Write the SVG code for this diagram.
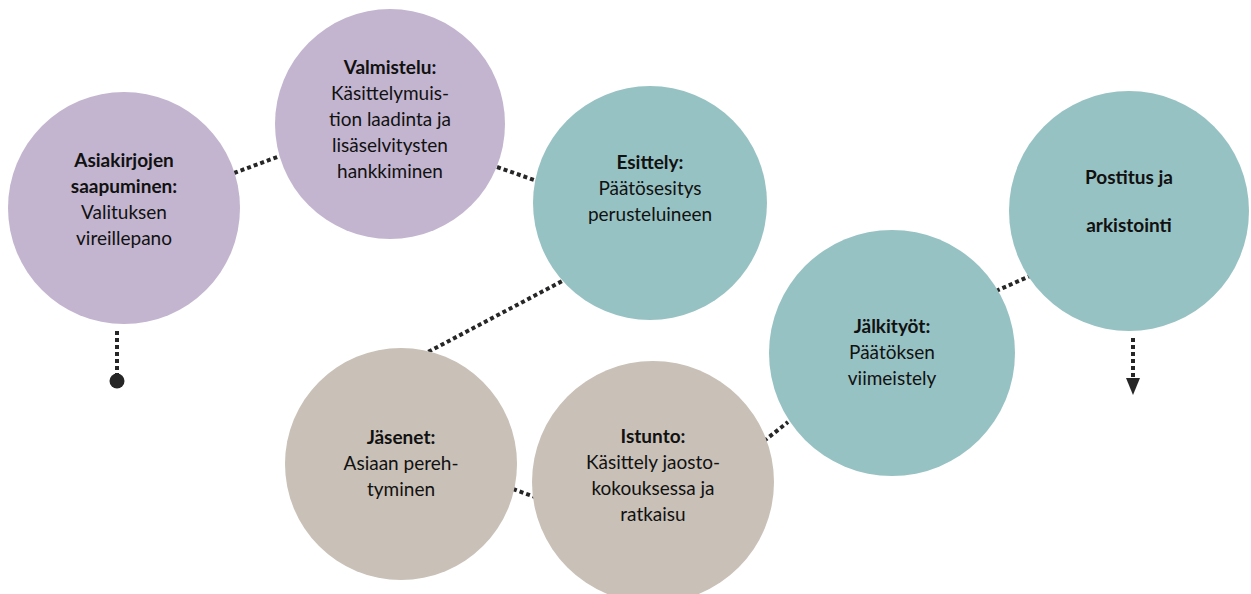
<svg xmlns="http://www.w3.org/2000/svg" width="1251" height="594" viewBox="0 0 1251 594">
  <defs>
    <style>
      .purple { fill: #c3b5cf; }
      .teal { fill: #97c2c3; }
      .taupe { fill: #c9c0b7; }
      text { font-family: Lato, "Noto Sans", "Liberation Sans", sans-serif; font-size: 19px; fill: #111111; text-anchor: middle; }
      .b { font-weight: bold; }
      .conn { stroke: #262626; stroke-width: 4; stroke-dasharray: 4 3; fill: none; }
    </style>
    <marker id="arrow" viewBox="0 0 10 10" refX="0" refY="5" markerWidth="4" markerHeight="4" orient="auto" markerUnits="strokeWidth">
      <path d="M0,0 L10,5 L0,10 z" fill="#262626"/>
    </marker>
  </defs>
  <rect width="1251" height="594" fill="#ffffff"/>

  <g id="connectors">
    <line class="conn" x1="234" y1="173" x2="280" y2="156"/>
    <line class="conn" x1="497" y1="167" x2="537" y2="181"/>
    <line class="conn" x1="568" y1="278" x2="428" y2="352"/>
    <line class="conn" x1="513" y1="489" x2="535" y2="497"/>
    <line class="conn" x1="764" y1="441" x2="788" y2="422"/>
    <line class="conn" x1="996" y1="291" x2="1030" y2="276"/>
    <line class="conn" x1="117" y1="331" x2="117" y2="374"/>
    <circle cx="117" cy="381" r="7.5" fill="#262626"/>
    <line class="conn" x1="1133" y1="338" x2="1133" y2="379"/>
    <path d="M1126,378 L1140,378 L1133,395 z" fill="#262626"/>
  </g>

  <g id="node-asiakirjojen">
    <circle class="purple" cx="124" cy="208" r="116"/>
    <text class="b" x="124" y="167">Asiakirjojen</text>
    <text class="b" x="124" y="193">saapuminen:</text>
    <text x="124" y="219">Valituksen</text>
    <text x="124" y="245">vireillepano</text>
  </g>

  <g id="node-valmistelu">
    <circle class="purple" cx="390" cy="124" r="115"/>
    <text class="b" x="390" y="74">Valmistelu:</text>
    <text x="390" y="100">Käsittelymuis-</text>
    <text x="390" y="126">tion laadinta ja</text>
    <text x="390" y="152">lisäselvitysten</text>
    <text x="390" y="178">hankkiminen</text>
  </g>

  <g id="node-esittely">
    <circle class="teal" cx="650" cy="203" r="117"/>
    <text class="b" x="650" y="169">Esittely:</text>
    <text x="650" y="195">Päätösesitys</text>
    <text x="650" y="221">perusteluineen</text>
  </g>

  <g id="node-postitus">
    <circle class="teal" cx="1129" cy="211" r="120"/>
    <text class="b" x="1129" y="184">Postitus ja</text>
    <text class="b" x="1129" y="232">arkistointi</text>
  </g>

  <g id="node-jalkityot">
    <circle class="teal" cx="892" cy="353" r="123"/>
    <text class="b" x="892" y="333">Jälkityöt:</text>
    <text x="892" y="359">Päätöksen</text>
    <text x="892" y="385">viimeistely</text>
  </g>

  <g id="node-jasenet">
    <circle class="taupe" cx="401" cy="464" r="116"/>
    <text class="b" x="401" y="444">Jäsenet:</text>
    <text x="401" y="470">Asiaan pereh-</text>
    <text x="401" y="496">tyminen</text>
  </g>

  <g id="node-istunto">
    <circle class="taupe" cx="653" cy="482" r="121"/>
    <text class="b" x="653" y="443">Istunto:</text>
    <text x="653" y="469">Käsittely jaosto-</text>
    <text x="653" y="495">kokouksessa ja</text>
    <text x="653" y="521">ratkaisu</text>
  </g>
</svg>
